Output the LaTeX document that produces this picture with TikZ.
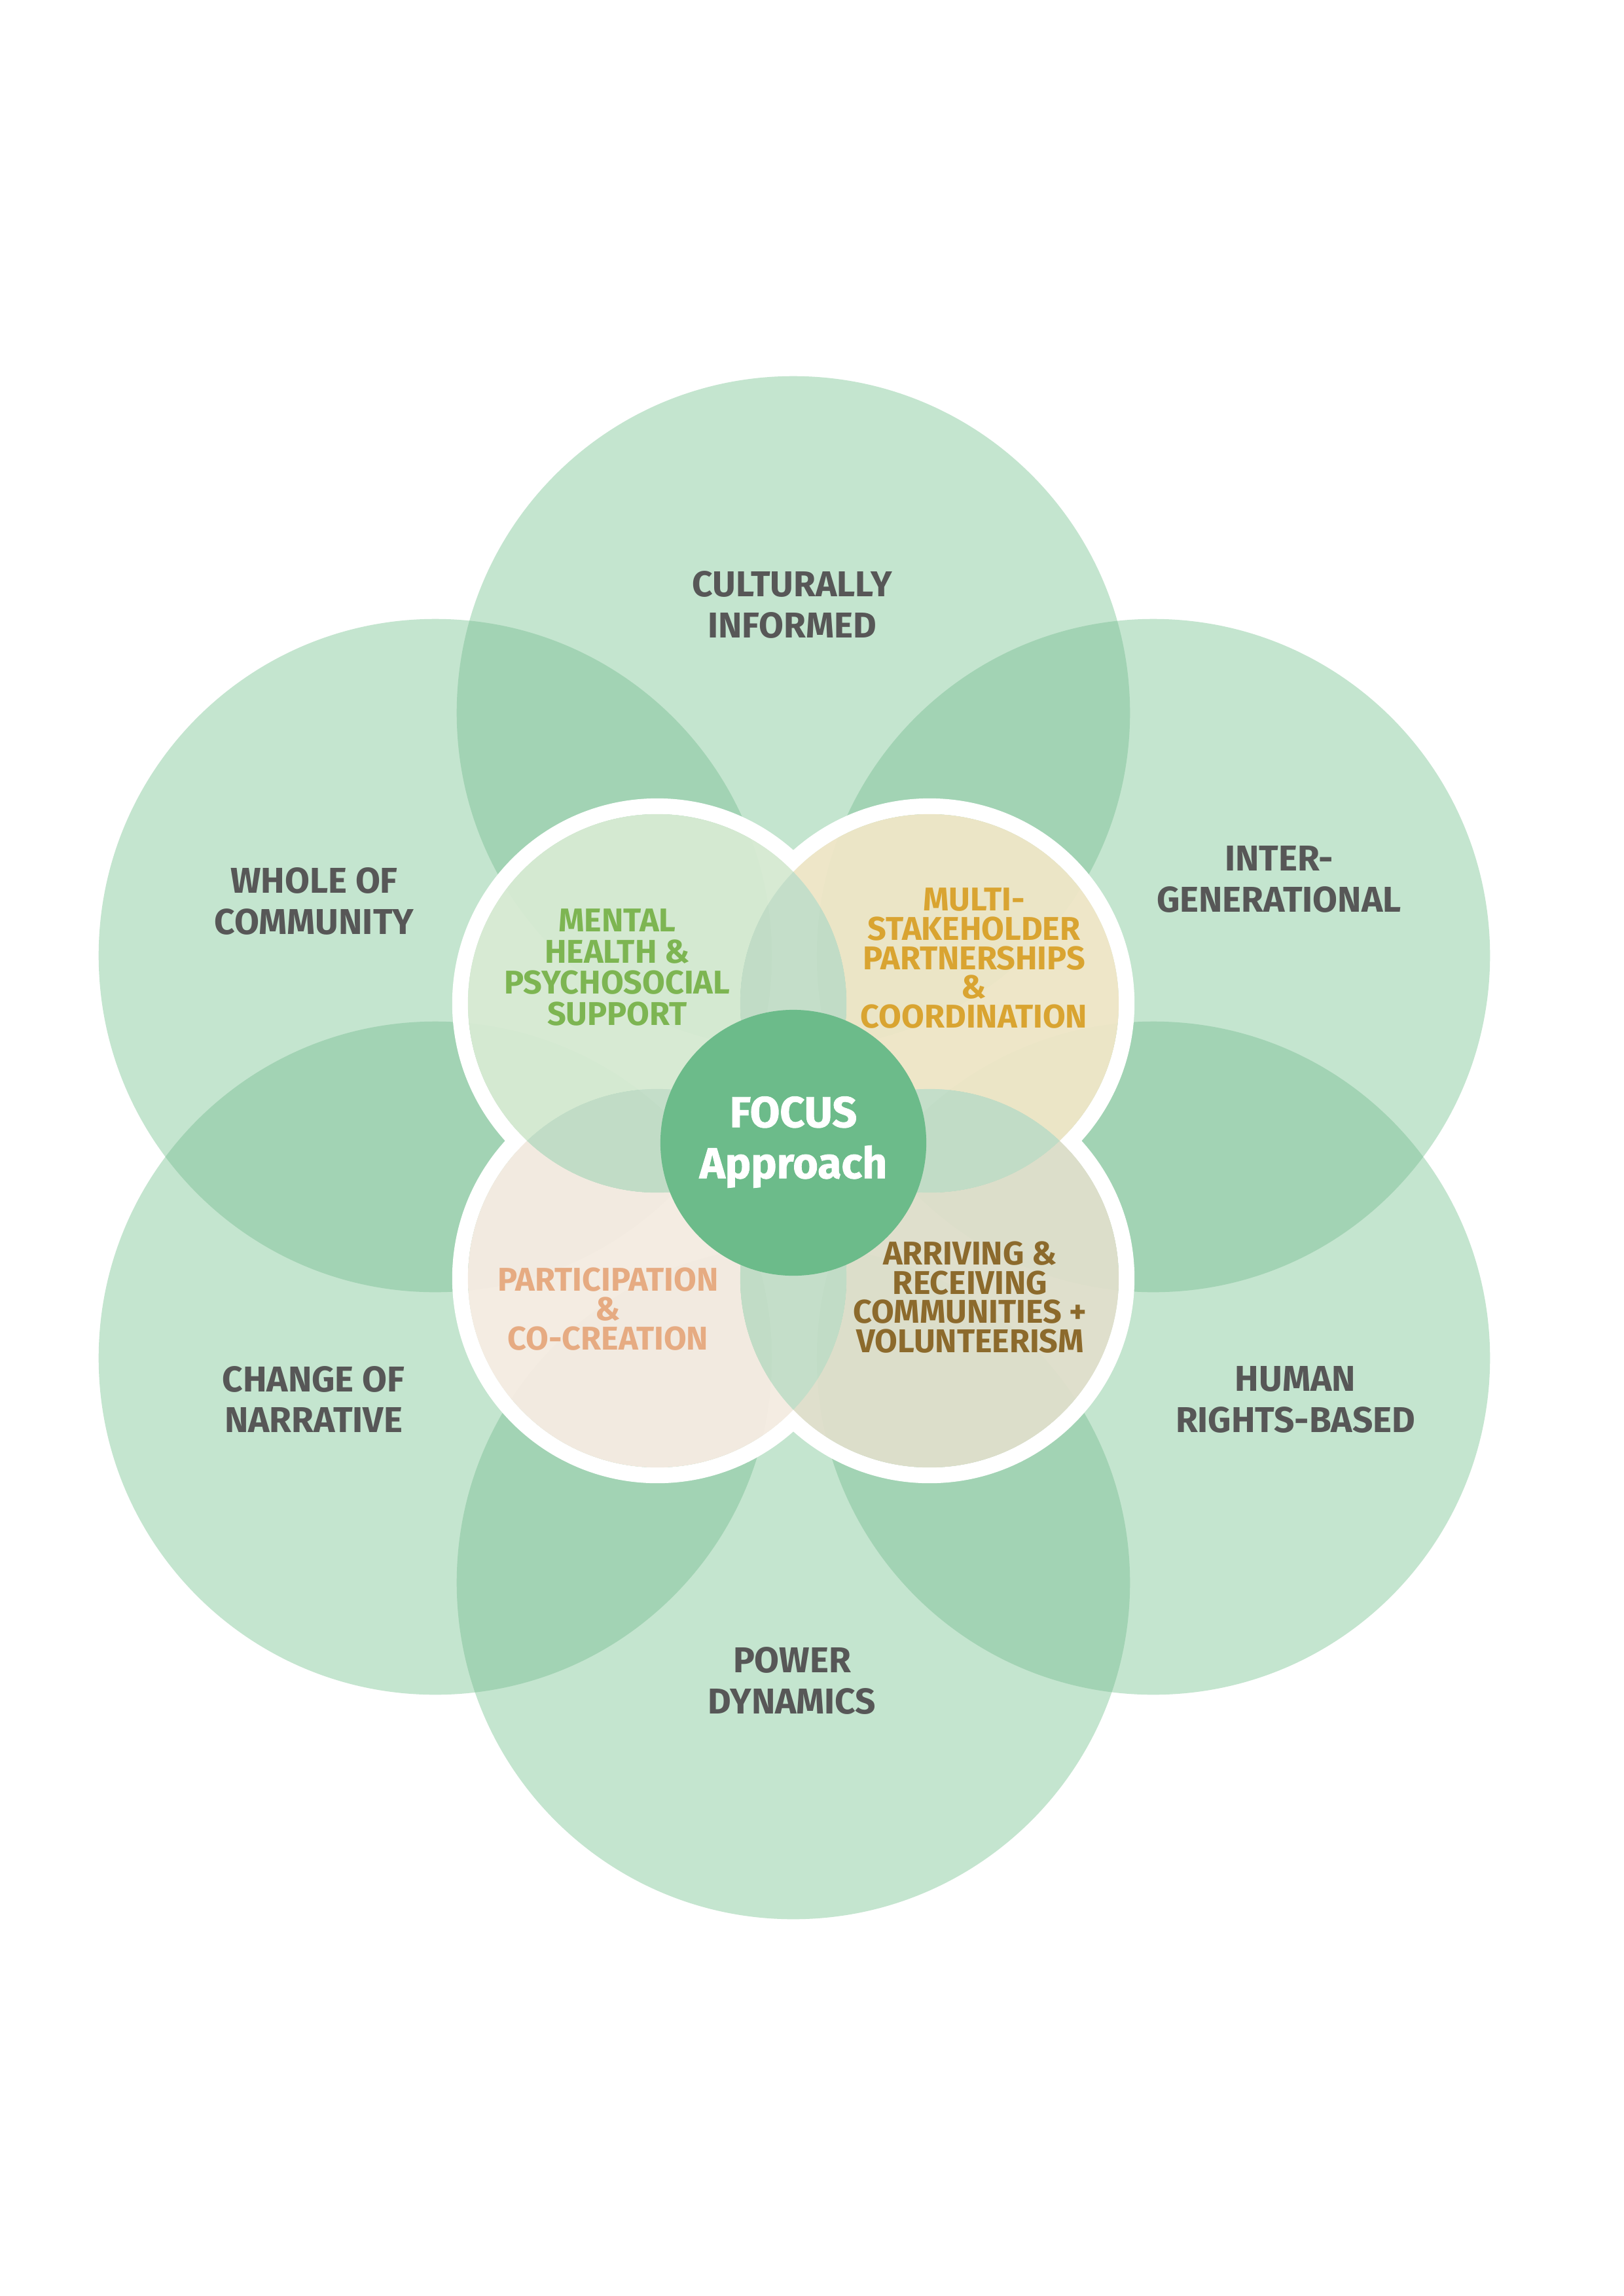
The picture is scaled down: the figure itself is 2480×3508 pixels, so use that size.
\documentclass[tikz,border=0pt]{standalone}
\usepackage{fontspec}
\setmainfont{Fira Sans}
\newfontfamily\focusfont{Fira Sans}[BoldFeatures={FakeBold=1.3}]
\definecolor{outerg}{HTML}{C4E5CF}
\definecolor{outerd}{HTML}{A2D3B4}
\definecolor{tlfill}{RGB}{217,235,212}
\definecolor{trfill}{RGB}{242,231,200}
\definecolor{blfill}{RGB}{249,237,228}
\definecolor{brfill}{RGB}{226,223,204}
\definecolor{lensc}{RGB}{197,222,201}
\definecolor{focusg}{HTML}{6CBB8A}
\definecolor{outertxt}{HTML}{575757}
\definecolor{mhtxt}{HTML}{7DB552}
\definecolor{mstxt}{HTML}{D9A431}
\definecolor{pctxt}{HTML}{E6AB82}
\definecolor{artxt}{HTML}{8C6A2C}
\tikzset{
  outerlbl/.style={align=center, inner sep=0pt, text=outertxt,
    font=\fontsize{15.6}{17.9}\selectfont\bfseries},
  innerlbl/.style={align=center, inner sep=0pt,
    font=\fontsize{14.3}{12.7}\selectfont\bfseries},
  focuslbl/.style={align=center, inner sep=0pt, text=white,
    font=\fontsize{18.8}{22.2}\selectfont\focusfont\bfseries},
}
\newcommand\outsideclip[1]{\clip (-100,-100) rectangle (2600,3600) (#1) circle (2.89cm);}
\begin{document}
\begin{tikzpicture}[x=0.01cm,y=-0.01cm]
\fill[white] (0,0) rectangle (2480,3508);
\useasboundingbox (0,0) rectangle (2480,3508);
% outer circle centres
\coordinate (ot) at (1212,1089);
\coordinate (ob) at (1212,2418);
\coordinate (olt) at (665,1460);
\coordinate (olb) at (665,2075);
\coordinate (ort) at (1762,1460);
\coordinate (orb) at (1762,2075);
% inner circle centres
\coordinate (tl) at (1004,1533);
\coordinate (tr) at (1420,1533);
\coordinate (bl) at (1004,1953);
\coordinate (br) at (1420,1953);
\coordinate (ctr) at (1212,1746);
% outer circles
\foreach \c in {ot,ob,olt,olb,ort,orb} \fill[outerg] (\c) circle (5.14cm);
\foreach \a/\b in {ot/ort,ort/orb,orb/ob,ob/olb,olb/olt,olt/ot}{
  \begin{scope}\clip (\a) circle (5.14cm); \fill[outerd] (\b) circle (5.14cm);\end{scope}
}
% white ring around inner flower
\begin{scope}[even odd rule]
  \outsideclip{tl}\outsideclip{tr}\outsideclip{bl}\outsideclip{br}
  \foreach \c in {tl,tr,bl,br} \fill[white] (\c) circle (3.13cm);
\end{scope}
% inner fills (excluding lenses)
\begin{scope}[even odd rule]\outsideclip{tr}\outsideclip{bl}\fill[tlfill,fill opacity=0.92] (tl) circle (2.89cm);\end{scope}
\begin{scope}[even odd rule]\outsideclip{tl}\outsideclip{br}\fill[trfill,fill opacity=0.92] (tr) circle (2.89cm);\end{scope}
\begin{scope}[even odd rule]\outsideclip{tl}\outsideclip{br}\fill[blfill,fill opacity=0.92] (bl) circle (2.89cm);\end{scope}
\begin{scope}[even odd rule]\outsideclip{tr}\outsideclip{bl}\fill[brfill,fill opacity=0.92] (br) circle (2.89cm);\end{scope}
% lenses
\foreach \a/\b in {tl/tr,tl/bl,tr/br,bl/br}{
  \begin{scope}\clip (\a) circle (2.89cm); \fill[lensc,fill opacity=0.9] (\b) circle (2.89cm);\end{scope}
}
% centre
\fill[focusg] (ctr) circle (2.03cm);
% labels
\node[outerlbl] (cult) at (1210,924) {CULTURALLY\\INFORMED};
\node[outerlbl] (whole) at (480,1377) {WHOLE OF\\COMMUNITY};
\node[outerlbl] (inter) at (1954,1343) {INTER-\\GENERATIONAL};
\node[outerlbl] (change) at (479,2138) {CHANGE OF\\NARRATIVE};
\node[outerlbl] (human) at (1979,2138) {HUMAN\\RIGHTS-BASED};
\node[outerlbl] (power) at (1210,2568) {POWER\\DYNAMICS};
\node[innerlbl,text=mhtxt,font=\fontsize{14.3}{13.6}\selectfont\bfseries] (mh) at (943,1478) {MENTAL\\HEALTH \&\\PSYCHOSOCIAL\\SUPPORT};
\node[innerlbl,text=mstxt] (ms) at (1488,1464) {MULTI-\\STAKEHOLDER\\PARTNERSHIPS\\\&\\COORDINATION};
\node[innerlbl,text=pctxt] (pc) at (929,2000) {PARTICIPATION\\\&\\CO-CREATION};
\node[innerlbl,text=artxt] (ar) at (1482,1982) {ARRIVING \&\\RECEIVING\\COMMUNITIES +\\VOLUNTEERISM};
\node[focuslbl] (focus) at (1212,1745) {FOCUS\\Approach};
\end{tikzpicture}
\end{document}
